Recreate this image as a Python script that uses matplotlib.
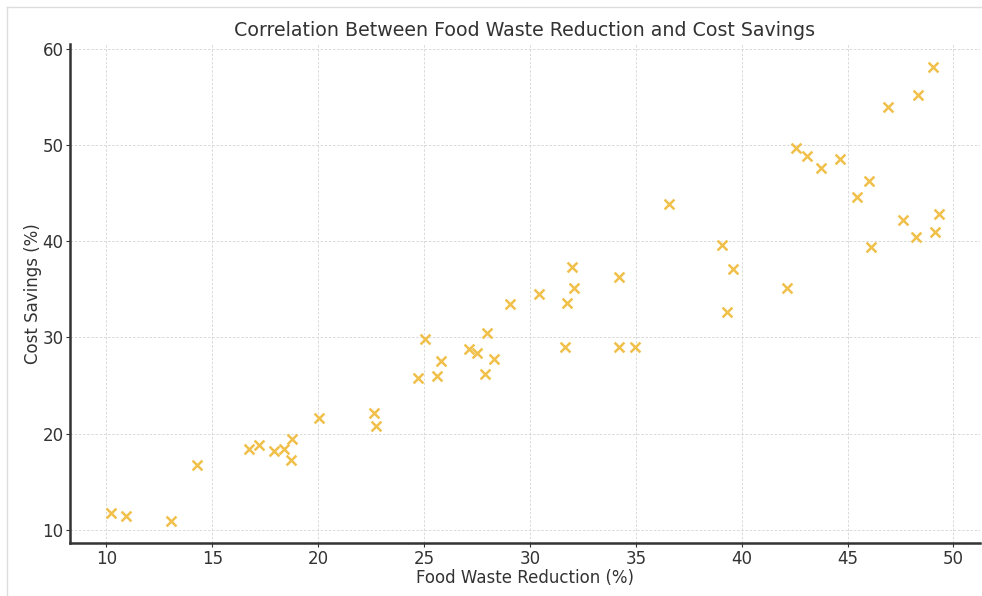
import matplotlib
matplotlib.use("Agg")
import matplotlib.pyplot as plt
from matplotlib.lines import Line2D

# Food waste reduction (%) vs cost savings (%)
waste_reduction = [
    10.22, 10.94, 13.03, 14.28, 16.73, 17.20, 17.91, 18.38, 18.75, 18.73,
    20.05, 22.65, 22.74, 24.69, 25.04, 25.60, 25.78, 27.10, 27.52, 27.99,
    27.86, 28.28, 29.07, 30.42, 31.74, 32.10, 32.00, 31.65, 34.21, 34.21,
    34.98, 36.58, 39.05, 39.57, 39.30, 42.12, 42.56, 43.10, 43.74, 44.65,
    45.99, 45.46, 46.09, 46.92, 48.33, 49.04, 47.61, 48.22, 49.14, 49.30,
]
cost_savings = [
    11.80, 11.46, 10.97, 16.80, 18.44, 18.85, 18.16, 18.40, 19.48, 17.29,
    21.60, 22.19, 20.83, 25.83, 29.80, 26.04, 27.56, 28.78, 28.40, 30.42,
    26.18, 27.77, 33.47, 34.50, 33.54, 35.10, 37.35, 29.02, 36.28, 29.02,
    29.02, 43.89, 39.60, 37.08, 32.67, 35.17, 49.69, 48.81, 47.60, 48.57,
    46.25, 44.61, 39.38, 53.99, 55.20, 58.08, 42.19, 40.45, 41.00, 42.80,
]

TEXT = "#333333"

fig = plt.figure(figsize=(9.82, 5.96), dpi=100)
ax = fig.add_axes([0.071, 0.0884, 0.927, 0.837])

ax.scatter(waste_reduction, cost_savings, marker="x", s=50,
           color="#f0c04a", linewidths=1.8, zorder=3)

ax.set_title("Correlation Between Food Waste Reduction and Cost Savings",
             fontsize=13.7, color=TEXT, pad=6)
ax.set_xlabel("Food Waste Reduction (%)", fontsize=12, color=TEXT, labelpad=1)
ax.set_ylabel("Cost Savings (%)", fontsize=12, color=TEXT, labelpad=0)

ax.grid(True, linestyle=(0, (3, 2)), color="#d4d4d4", linewidth=0.6, zorder=0)
ax.set_axisbelow(True)
for side in ("top", "right"):
    ax.spines[side].set_visible(False)
for side in ("left", "bottom"):
    ax.spines[side].set_linewidth(1.8)
    ax.spines[side].set_color("#333333")
ax.tick_params(labelsize=12, colors=TEXT, length=3, width=0.8, pad=1.5)

# faint screenshot border (left and top only)
fig.add_artist(Line2D([7 / 982, 7 / 982], [0, 1 - 7 / 596],
                      transform=fig.transFigure, color="#dddddd", linewidth=1))
fig.add_artist(Line2D([7 / 982, 1], [1 - 7 / 596, 1 - 7 / 596],
                      transform=fig.transFigure, color="#dddddd", linewidth=1))

fig.savefig("out.png", dpi=100)
